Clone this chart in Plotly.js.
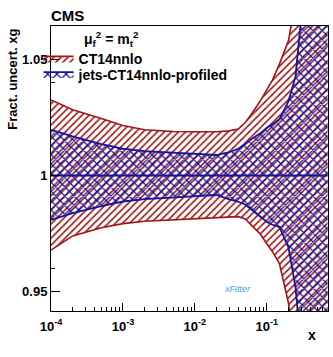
<!DOCTYPE html>
<html>
<head>
<meta charset="utf-8">
<script src="https://cdn.plot.ly/plotly-3.0.1.min.js"></script>
<style>
html,body{margin:0;padding:0;background:#fff;}
#chart{width:333px;height:357px;}
</style>
</head>
<body>
<div id="chart"></div>
<script>
// ---- data ----
const xVals = [1e-4, 2e-4, 5e-4, 1e-3, 2e-3, 5e-3, 1e-2, 2e-2, 3e-2, 4e-2, 5e-2, 6e-2, 8e-2, 0.1, 0.12, 0.15, 0.2, 0.25, 0.3, 0.4, 0.5, 0.7];
const ct14Upper = [1.0325, 1.0283, 1.0245, 1.0215, 1.0197, 1.0189, 1.0188, 1.0188, 1.0192, 1.0200, 1.0228, 1.0260, 1.0318, 1.0370, 1.0411, 1.0480, 1.0580, 1.0750, 1.0900, 1.1200, 1.1400, 1.1700];
const ct14Lower = [0.9679, 0.9740, 0.9775, 0.9793, 0.9803, 0.9810, 0.9815, 0.9820, 0.9822, 0.9823, 0.9813, 0.9790, 0.9750, 0.9706, 0.9672, 0.9620, 0.9450, 0.9200, 0.9000, 0.8800, 0.8600, 0.8300];
const profUpper = [1.0196, 1.0168, 1.0135, 1.0115, 1.0105, 1.0097, 1.0091, 1.0088, 1.0100, 1.0115, 1.0135, 1.0155, 1.0180, 1.0205, 1.0220, 1.0242, 1.0320, 1.0425, 1.0680, 1.1000, 1.1200, 1.1500];
const profLower = [0.9809, 0.9838, 0.9868, 0.9888, 0.9898, 0.9905, 0.9912, 0.9916, 0.9897, 0.9887, 0.9875, 0.9855, 0.9825, 0.9800, 0.9788, 0.9778, 0.9690, 0.9520, 0.9250, 0.9000, 0.8800, 0.8500];
const central = [1, 1, 1, 1, 1, 1, 1, 1, 1, 1, 1, 1, 1, 1, 1, 1, 1, 1, 1, 1, 1, 1];
const seriesNames = ['CT14nnlo', 'jets-CT14nnlo-profiled'];
const xTickVals = [1e-4, 1e-3, 1e-2, 1e-1];
const xTickText = ['10<sup>-4</sup>', '10<sup>-3</sup>', '10<sup>-2</sup>', '10<sup>-1</sup>'];
const xMinorVals = [2e-4,3e-4,4e-4,5e-4,6e-4,7e-4,8e-4,9e-4, 2e-3,3e-3,4e-3,5e-3,6e-3,7e-3,8e-3,9e-3, 2e-2,3e-2,4e-2,5e-2,6e-2,7e-2,8e-2,9e-2, 0.2,0.3,0.4,0.5,0.6,0.7];
const yTickVals = [0.95, 1, 1.05];
const yTickText = ['0.95', '1', '1.05'];
const yMinorVals = [0.96, 1.04];

const RED = '#a01414';
const BLUE = '#1414a0';
const FONT = 'Liberation Sans, Arial, Helvetica, sans-serif';

const traces = [
  {x: xVals, y: ct14Lower, mode: 'lines', line: {color: RED, width: 1.6}, showlegend: false, hoverinfo: 'skip'},
  {x: xVals, y: ct14Upper, mode: 'lines', name: seriesNames[0], legend: 'legend', line: {color: RED, width: 1.6},
   fill: 'tonexty', fillcolor: 'rgba(0,0,0,0)',
   fillpattern: {shape: '/', fgcolor: RED, bgcolor: 'rgba(0,0,0,0)', size: 5, solidity: 0.32}},
  {x: xVals, y: profLower, mode: 'lines', line: {color: BLUE, width: 1.8}, showlegend: false, hoverinfo: 'skip'},
  {x: xVals, y: profUpper, mode: 'lines', name: seriesNames[1], legend: 'legend2', line: {color: BLUE, width: 1.8},
   fill: 'tonexty', fillcolor: 'rgba(0,0,0,0)',
   fillpattern: {shape: 'x', fgcolor: BLUE, bgcolor: 'rgba(0,0,0,0)', size: 6.5, solidity: 0.35}},
  {x: xVals, y: central, mode: 'lines', line: {color: BLUE, width: 2}, showlegend: false, hoverinfo: 'skip'}
];

const legendFont = {family: FONT, size: 14, color: '#000', weight: 'bold'};

const layout = {
  width: 333, height: 357,
  margin: {l: 51, r: 5, t: 26, b: 46},
  paper_bgcolor: '#fff', plot_bgcolor: '#fff',
  font: {family: FONT, size: 13, color: '#000', weight: 'bold'},
  showlegend: true,
  legend: {x: -0.045, y: 0.885, xanchor: 'left', yanchor: 'middle', bgcolor: 'rgba(0,0,0,0)',
           font: legendFont, itemwidth: 30},
  legend2: {x: -0.045, y: 0.830, xanchor: 'left', yanchor: 'middle', bgcolor: 'rgba(0,0,0,0)',
           font: legendFont, itemwidth: 30},
  xaxis: {type: 'log', range: [-4, -0.15], showgrid: false, zeroline: false,
          showline: true, linecolor: '#000', linewidth: 1, mirror: true,
          ticks: 'inside', ticklen: 8, tickcolor: '#000',
          tickvals: xTickVals, ticktext: xTickText, ticklabelstandoff: 3,
          tickfont: {family: FONT, size: 13, weight: 'bold'},
          minor: {ticks: 'inside', ticklen: 4, tickcolor: '#000', tickmode: 'array', tickvals: xMinorVals, showgrid: false}},
  yaxis: {range: [0.9417, 1.0643], showgrid: false, zeroline: false,
          showline: true, linecolor: '#000', linewidth: 1, mirror: true,
          ticks: 'inside', ticklen: 9, tickcolor: '#000',
          tickvals: yTickVals, ticktext: yTickText,
          tickfont: {family: FONT, size: 13, weight: 'bold'},
          minor: {ticks: 'inside', ticklen: 4, tickcolor: '#000', tickmode: 'array', tickvals: yMinorVals, showgrid: false}},
  annotations: [
    {text: 'CMS', xref: 'paper', yref: 'paper', x: -0.008, y: 1.037, xanchor: 'left', yanchor: 'middle',
     showarrow: false, font: {family: FONT, size: 15, weight: 'bold'}},
    {text: 'Fract. uncert. xg', xref: 'paper', yref: 'paper', x: -0.137, y: 0.812, xanchor: 'center', yanchor: 'middle',
     textangle: -90, showarrow: false, font: {family: FONT, size: 13, weight: 'bold'}},
    {text: 'x', xref: 'paper', yref: 'paper', x: 0.941, y: -0.084, xanchor: 'center', yanchor: 'middle',
     showarrow: false, font: {family: FONT, size: 14, weight: 'bold'}},
    {text: 'μ<sub>f</sub><sup>2</sup> = m<sub>t</sub><sup>2</sup>', xref: 'paper', yref: 'paper', x: 0.112, y: 0.955,
     xanchor: 'left', yanchor: 'middle', showarrow: false, font: {family: FONT, size: 14, weight: 'bold'}},
    {text: '<i>xFitter</i>', xref: 'paper', yref: 'paper', x: 0.675, y: 0.077, xanchor: 'center', yanchor: 'middle',
     showarrow: false, font: {family: FONT, size: 9, color: '#3ea2dc', weight: 'normal'}}
  ]
};

Plotly.newPlot('chart', traces, layout, {displayModeBar: false, staticPlot: true});
</script>
</body>
</html>
